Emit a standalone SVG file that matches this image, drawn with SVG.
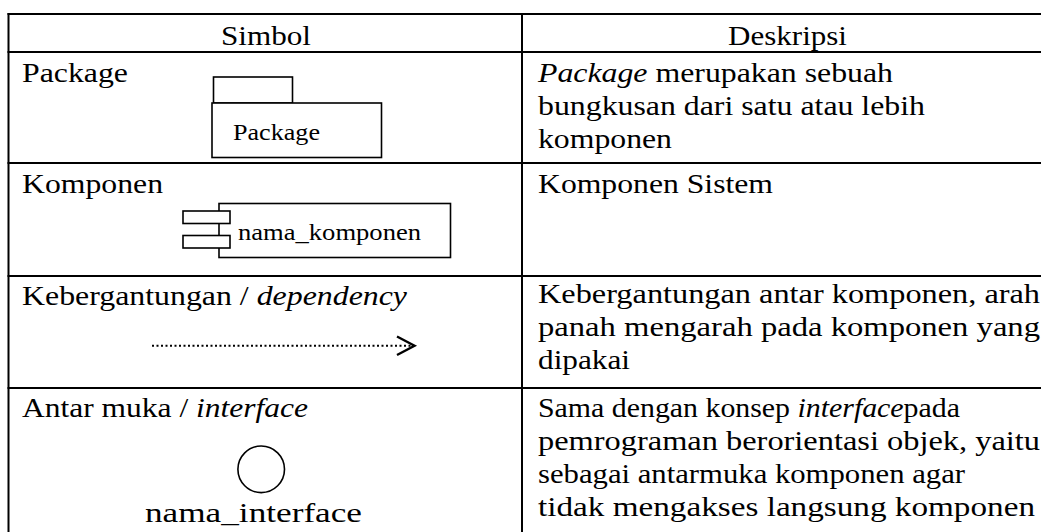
<svg xmlns="http://www.w3.org/2000/svg" width="1041" height="532" viewBox="0 0 1041 532">
<style>
.t{font-family:"Liberation Serif","Times New Roman",serif;font-size:28px;fill:#000}
.s{font-family:"Liberation Serif","Times New Roman",serif;font-size:24px;fill:#000}
.i{font-style:italic}
.g{stroke:#000;stroke-width:2;fill:none}
.sh{stroke:#000;stroke-width:1.6;fill:#fff}
</style>
<rect width="1041" height="532" fill="#fff"/>
<g id="table">
<line class="g" x1="7.5" y1="14" x2="1041" y2="14"/>
<line class="g" x1="7.5" y1="52" x2="1041" y2="52"/>
<line class="g" x1="7.5" y1="163" x2="1041" y2="163"/>
<line class="g" x1="7.5" y1="276" x2="1041" y2="276"/>
<line class="g" x1="7.5" y1="388" x2="1041" y2="388"/>
<line class="g" x1="8.5" y1="13" x2="8.5" y2="532"/>
<line class="g" x1="522" y1="13" x2="522" y2="532"/>
</g>
<g id="header">
<text class="t" x="221" y="45" textLength="90" lengthAdjust="spacingAndGlyphs">Simbol</text>
<text class="t" x="728" y="45" textLength="119" lengthAdjust="spacingAndGlyphs">Deskripsi</text>
</g>
<g id="row-package">
<text class="t" x="22" y="82" textLength="106" lengthAdjust="spacingAndGlyphs">Package</text>
<rect class="sh" x="213.5" y="77" width="79" height="26"/>
<rect class="sh" x="212" y="103" width="169.5" height="54.5"/>
<text class="s" x="233" y="140" textLength="87" lengthAdjust="spacingAndGlyphs">Package</text>
<text class="t" x="538" y="82" textLength="355" lengthAdjust="spacingAndGlyphs"><tspan class="i">Package</tspan> merupakan sebuah</text>
<text class="t" x="538" y="115" textLength="387" lengthAdjust="spacingAndGlyphs">bungkusan dari satu atau lebih</text>
<text class="t" x="538" y="148" textLength="134" lengthAdjust="spacingAndGlyphs">komponen</text>
</g>
<g id="row-komponen">
<text class="t" x="22" y="193" textLength="141" lengthAdjust="spacingAndGlyphs">Komponen</text>
<rect class="sh" x="219" y="203.5" width="231.5" height="54"/>
<rect class="sh" x="183" y="211" width="47" height="12.5"/>
<rect class="sh" x="183" y="235.5" width="47" height="12.5"/>
<text class="s" x="238" y="240" textLength="183" lengthAdjust="spacingAndGlyphs">nama_komponen</text>
<text class="t" x="538" y="193" textLength="235" lengthAdjust="spacingAndGlyphs">Komponen Sistem</text>
</g>
<g id="row-dependency">
<text class="t" x="22" y="305" textLength="385" lengthAdjust="spacingAndGlyphs">Kebergantungan / <tspan class="i">dependency</tspan></text>
<text class="t" x="538" y="303" textLength="502" lengthAdjust="spacingAndGlyphs">Kebergantungan antar komponen, arah</text>
<text class="t" x="538" y="336" textLength="502" lengthAdjust="spacingAndGlyphs">panah mengarah pada komponen yang</text>
<text class="t" x="538" y="369" textLength="92" lengthAdjust="spacingAndGlyphs">dipakai</text>
</g>
<g id="connectors">
<line x1="152" y1="345.7" x2="412" y2="345.7" stroke="#000" stroke-width="2" stroke-dasharray="2 2.5"/>
<polyline points="397,336.5 414.5,345.7 397,355" fill="none" stroke="#000" stroke-width="2.4"/>
</g>
<g id="row-interface">
<text class="t" x="22" y="417" textLength="286" lengthAdjust="spacingAndGlyphs">Antar muka / <tspan class="i">interface</tspan></text>
<circle class="sh" cx="261.2" cy="469.3" r="23.3"/>
<text class="t" x="145" y="522" textLength="217" lengthAdjust="spacingAndGlyphs">nama_interface</text>
<text class="t" x="538" y="417" textLength="422" lengthAdjust="spacingAndGlyphs">Sama dengan konsep <tspan class="i">interface</tspan>pada</text>
<text class="t" x="538" y="450" textLength="502" lengthAdjust="spacingAndGlyphs">pemrograman berorientasi objek, yaitu</text>
<text class="t" x="538" y="483" textLength="427" lengthAdjust="spacingAndGlyphs">sebagai antarmuka komponen agar</text>
<text class="t" x="538" y="516" textLength="497" lengthAdjust="spacingAndGlyphs">tidak mengakses langsung komponen</text>
</g>
</svg>
